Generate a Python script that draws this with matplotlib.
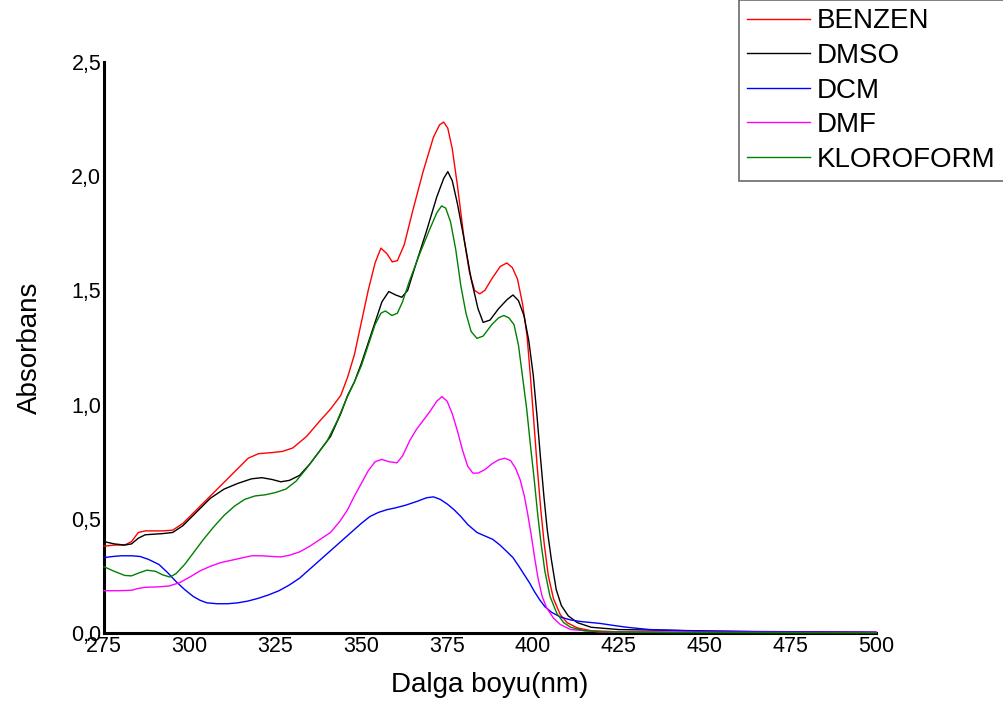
import matplotlib
matplotlib.use("Agg")
import matplotlib.pyplot as plt
from matplotlib.ticker import FuncFormatter, MultipleLocator

plt.rcParams['font.family'] = ['Liberation Sans', 'DejaVu Sans']

# Absorption spectra (wavelength in nm, absorbance) per solvent
benzen_nm = [275, 278, 281, 283, 285, 287, 292, 295, 298, 302,
             306, 310, 314, 317, 320, 324, 327, 330, 334, 338,
             341, 344, 346, 348, 350, 352, 354, 355.7, 357.5, 359,
             360.5, 362.5, 365, 368, 371, 372.8, 374, 375.2, 376.5, 378,
             380, 381.5, 383, 384.5, 386, 388, 390.5, 392.4, 394, 395.5,
             397, 398.3, 399.3, 400.3, 401.3, 402.3, 403.3, 404.5, 406, 408,
             410, 413, 417, 425, 450, 500]
benzen_abs = [0.38, 0.385, 0.385, 0.40, 0.44, 0.447, 0.447, 0.45, 0.48, 0.54,
              0.60, 0.66, 0.72, 0.765, 0.785, 0.79, 0.795, 0.81, 0.86, 0.93,
              0.98, 1.04, 1.12, 1.22, 1.36, 1.50, 1.62, 1.685, 1.66, 1.625,
              1.63, 1.70, 1.85, 2.02, 2.17, 2.225, 2.237, 2.21, 2.12, 1.96,
              1.72, 1.58, 1.50, 1.485, 1.50, 1.55, 1.605, 1.62, 1.60, 1.55,
              1.44, 1.30, 1.12, 0.92, 0.72, 0.54, 0.39, 0.25, 0.15, 0.08,
              0.045, 0.022, 0.01, 0.005, 0.003, 0.002]

dmso_nm = [275, 278, 281, 283, 285, 287, 292, 295, 298, 302,
           306, 310, 314, 318, 321, 324, 326.5, 329, 332, 335,
           338, 341, 344, 346, 348, 350, 352, 354, 356, 358,
           360, 361.8, 363.5, 366, 369, 372, 374, 375.2, 376.5, 378,
           380, 382, 384, 385.5, 387.5, 390, 392.5, 394.2, 395.8, 397.4,
           398.8, 400.1, 401.2, 402.2, 403.2, 404.2, 405.4, 406.8, 408.3, 410.3,
           413, 417, 425, 439, 467, 500]
dmso_abs = [0.40, 0.39, 0.385, 0.39, 0.415, 0.43, 0.435, 0.44, 0.47, 0.53,
            0.59, 0.63, 0.655, 0.675, 0.68, 0.672, 0.662, 0.668, 0.69, 0.74,
            0.80, 0.86, 0.96, 1.04, 1.10, 1.18, 1.27, 1.36, 1.45, 1.495,
            1.48, 1.47, 1.50, 1.62, 1.76, 1.91, 1.99, 2.02, 1.98, 1.88,
            1.72, 1.55, 1.42, 1.36, 1.37, 1.42, 1.46, 1.48, 1.455, 1.39,
            1.28, 1.13, 0.95, 0.77, 0.60, 0.45, 0.32, 0.19, 0.12, 0.075,
            0.045, 0.025, 0.015, 0.012, 0.005, 0.002]

dcm_nm = [275, 277.6, 280, 283, 285.5, 288, 291, 293.5, 296, 298.5,
          301, 303, 305, 308, 311, 314, 317, 320, 323, 326,
          329, 332, 335, 338, 341, 344, 347, 350, 352.5, 355,
          357.5, 360, 363, 366, 369, 371, 373, 375, 377, 379,
          381, 383.7, 386, 388.3, 390.4, 392.5, 394.2, 396, 397.5, 399,
          400.5, 402, 403.5, 405.5, 408, 411, 414, 419.5, 424, 427.4,
          434, 448.7, 470, 500]
dcm_abs = [0.33, 0.335, 0.338, 0.338, 0.335, 0.322, 0.30, 0.265, 0.225, 0.19,
           0.16, 0.143, 0.132, 0.128, 0.128, 0.132, 0.14, 0.152, 0.167, 0.185,
           0.21, 0.24, 0.28, 0.32, 0.36, 0.40, 0.44, 0.48, 0.51, 0.528,
           0.54, 0.548, 0.56, 0.575, 0.592, 0.596, 0.585, 0.565, 0.54, 0.51,
           0.475, 0.44, 0.425, 0.41, 0.385, 0.355, 0.33, 0.29, 0.255, 0.22,
           0.18, 0.145, 0.115, 0.09, 0.07, 0.057, 0.05, 0.042, 0.032, 0.025,
           0.015, 0.008, 0.006, 0.004]

dmf_nm = [275, 279, 283, 285, 287, 291, 294, 297, 300, 303,
          306, 309, 312, 315, 318, 321, 324, 326.5, 329, 332,
          335, 338, 341, 343.8, 346, 348, 350, 352, 354, 356,
          358, 360.4, 362, 364.2, 366, 368, 370, 372, 373.5, 375,
          376.5, 378, 379.5, 381, 382.5, 384, 386, 388, 390, 391.8,
          393.5, 395, 396.3, 397.5, 398.5, 399.5, 400.5, 401.5, 402.7, 404,
          406, 408, 411, 419.5, 450, 500]
dmf_abs = [0.185, 0.185, 0.187, 0.195, 0.20, 0.202, 0.206, 0.22, 0.245, 0.272,
           0.292, 0.308, 0.318, 0.328, 0.338, 0.338, 0.335, 0.333, 0.34, 0.355,
           0.38, 0.41, 0.44, 0.49, 0.54, 0.60, 0.655, 0.71, 0.75, 0.76,
           0.75, 0.745, 0.775, 0.845, 0.89, 0.93, 0.97, 1.015, 1.035, 1.015,
           0.96, 0.885, 0.80, 0.73, 0.70, 0.70, 0.715, 0.74, 0.758, 0.765,
           0.755, 0.72, 0.67, 0.60, 0.52, 0.43, 0.33, 0.24, 0.16, 0.11,
           0.065, 0.037, 0.015, 0.005, 0.003, 0.002]

kloroform_nm = [275, 278, 281, 283, 285, 287.5, 290, 292, 294.2, 296,
                298.5, 301, 304, 307, 310, 313, 316, 319, 322, 325,
                328, 331, 334, 337, 340, 343, 345.8, 348, 350, 352,
                354, 355.7, 357, 358.9, 360.5, 362, 364, 367, 370, 372,
                373.4, 374.6, 376, 377.5, 379, 380.5, 382, 383.7, 385.5, 388,
                390, 391.5, 393, 394.5, 395.8, 397, 398.2, 399.3, 400.4, 401.4,
                402.4, 403.5, 405, 407, 409, 411, 415, 420, 440, 500]
kloroform_abs = [0.29, 0.27, 0.252, 0.25, 0.262, 0.275, 0.27, 0.255, 0.245, 0.26,
                 0.30, 0.35, 0.41, 0.465, 0.515, 0.555, 0.585, 0.60, 0.605, 0.615,
                 0.63, 0.665, 0.72, 0.78, 0.84, 0.93, 1.03, 1.10, 1.17, 1.26,
                 1.35, 1.40, 1.41, 1.39, 1.40, 1.45, 1.54, 1.66, 1.77, 1.84,
                 1.87, 1.86, 1.80, 1.68, 1.52, 1.40, 1.32, 1.29, 1.30, 1.35,
                 1.38, 1.39, 1.38, 1.35, 1.26, 1.12, 0.98, 0.82, 0.67, 0.52,
                 0.39, 0.27, 0.16, 0.085, 0.045, 0.025, 0.01, 0.005, 0.002, 0.001]

series = [
    ("BENZEN", benzen_nm, benzen_abs, "#ff0000"),
    ("DMSO", dmso_nm, dmso_abs, "#000000"),
    ("DCM", dcm_nm, dcm_abs, "#0000ff"),
    ("DMF", dmf_nm, dmf_abs, "#ff00ff"),
    ("KLOROFORM", kloroform_nm, kloroform_abs, "#008000"),
]

fig = plt.figure(figsize=(10.04, 7.03), dpi=100)
ax = fig.add_axes([0.1036, 0.0996, 0.7689, 0.8122])

for name, x, y, c in series:
    ax.plot(x, y, color=c, lw=1.0, label=name, zorder=5, clip_on=False)

ax.set_xlim(275, 500)
ax.set_ylim(0, 2.5)
ax.xaxis.set_major_locator(MultipleLocator(25))
ax.yaxis.set_major_locator(MultipleLocator(0.5))
ax.yaxis.set_major_formatter(FuncFormatter(lambda v, p: f"{v:.1f}".replace('.', ',')))

for s in ("top", "right"):
    ax.spines[s].set_visible(False)
for s in ("left", "bottom"):
    ax.spines[s].set_linewidth(2.2)
    ax.spines[s].set_zorder(2)

ax.tick_params(axis='both', length=0, labelsize=15.5, pad=2)
ax.set_xlabel("Dalga boyu(nm)", fontsize=20, labelpad=11)
ax.set_ylabel("Absorbans", fontsize=20, labelpad=20)

leg = fig.legend(loc='upper right', bbox_to_anchor=(1.0, 1.0), fontsize=20,
                 frameon=True, fancybox=False, handlelength=2.27, handletextpad=0.25,
                 labelspacing=0.31, borderpad=0.3, borderaxespad=0.0)
leg.get_frame().set_edgecolor('#444444')
leg.get_frame().set_linewidth(1.2)

fig.savefig("out.png", dpi=100)
